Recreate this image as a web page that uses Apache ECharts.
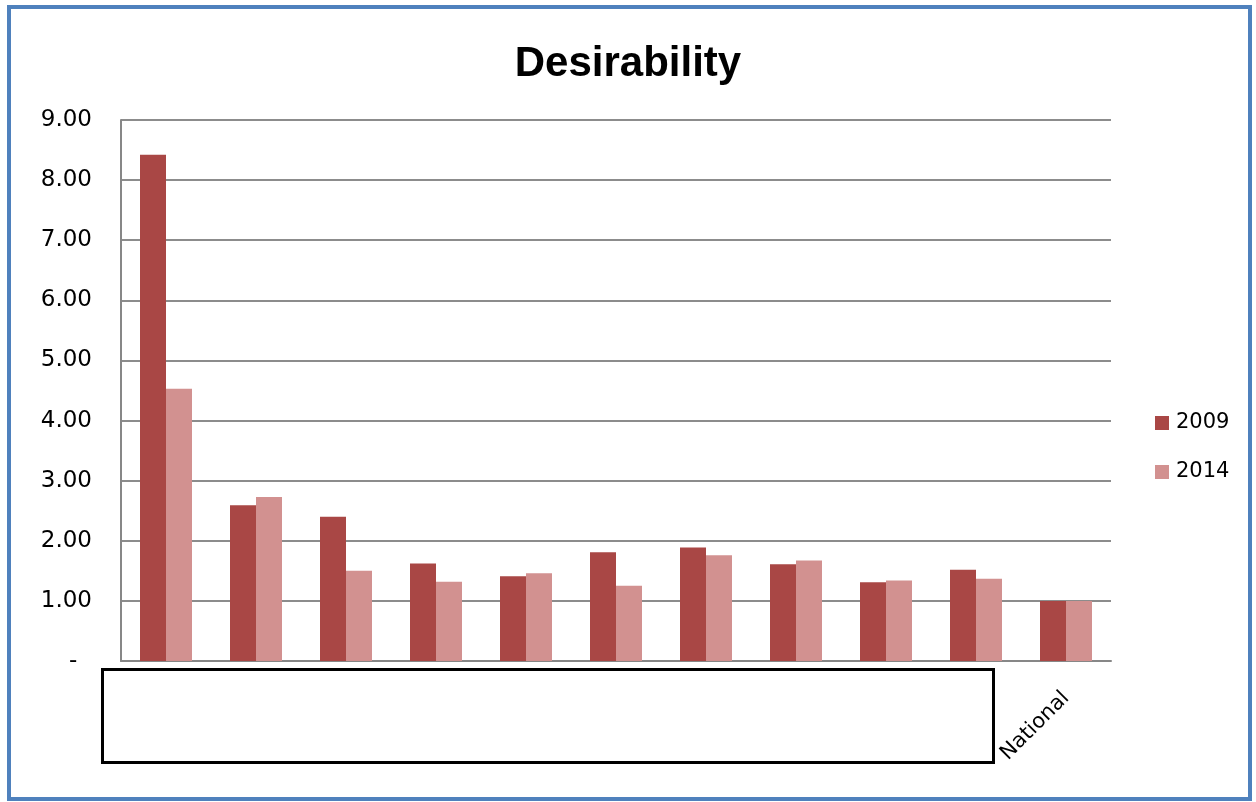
<!DOCTYPE html>
<html>
<head>
<meta charset="utf-8">
<title>Desirability</title>
<script src="https://cdn.jsdelivr.net/npm/echarts@6/dist/echarts.min.js"></script>
<style>
  html, body { margin: 0; padding: 0; background: #ffffff; }
  #chart { width: 1256px; height: 802px; }
</style>
</head>
<body>
<div id="chart"></div>
<script>
// Categories: ten groups whose labels sit under a blank panel, then the national figure
const categories = ['1', '2', '3', '4', '5', '6', '7', '8', '9', '10', 'National'];
const shownLabels = ['National'];

// Desirability index per category
const values2009 = [8.42, 2.59, 2.40, 1.62, 1.41, 1.81, 1.89, 1.61, 1.31, 1.52, 1.00];
const values2014 = [4.53, 2.73, 1.50, 1.32, 1.46, 1.25, 1.76, 1.67, 1.34, 1.37, 1.00];

const seriesNames = ['2009', '2014'];
const yTicks = { min: 0, max: 9, interval: 1 };

const chart = echarts.init(document.getElementById('chart'), null, { renderer: 'canvas' });

const labelFont = 'DejaVu Sans';

chart.setOption({
  backgroundColor: '#ffffff',
  animation: false,
  title: {
    text: 'Desirability',
    left: 'center',
    top: 38,
    textStyle: {
      fontFamily: 'Liberation Sans',
      fontWeight: 'bold',
      fontSize: 42,
      color: '#000000'
    }
  },
  legend: {
    orient: 'vertical',
    left: 1150,
    top: 407,
    itemWidth: 14,
    itemHeight: 14,
    itemGap: 27,
    icon: 'rect',
    textStyle: {
      fontFamily: labelFont,
      fontSize: 21,
      lineHeight: 22,
      color: '#000000',
      padding: [0, 0, 0, 2]
    },
    data: seriesNames
  },
  grid: {
    left: 121,
    right: 145,
    top: 120,
    bottom: 141,
    containLabel: false
  },
  xAxis: {
    type: 'category',
    data: categories,
    boundaryGap: true,
    axisLine: { lineStyle: { color: '#878787', width: 2 } },
    axisTick: { show: false },
    axisLabel: {
      interval: 0,
      rotate: 45,
      margin: 34,
      fontFamily: labelFont,
      fontSize: 21,
      color: '#000000',
      formatter: function (v) { return shownLabels.indexOf(v) >= 0 ? v : ''; }
    }
  },
  yAxis: {
    type: 'value',
    min: yTicks.min,
    max: yTicks.max,
    interval: yTicks.interval,
    axisLine: { show: true, lineStyle: { color: '#878787', width: 2 } },
    axisTick: { show: false },
    splitLine: { lineStyle: { color: '#8c8c8c', width: 2 } },
    axisLabel: {
      margin: 29,
      fontFamily: labelFont,
      fontSize: 23,
      color: '#000000',
      formatter: function (v) { return v === 0 ? '-\u00a0\u00a0' : v.toFixed(2); }
    }
  },
  series: [
    {
      name: seriesNames[0],
      type: 'bar',
      data: values2009,
      barWidth: 26,
      barGap: '0%',
      itemStyle: { color: '#a94745' }
    },
    {
      name: seriesNames[1],
      type: 'bar',
      data: values2014,
      barWidth: 26,
      barGap: '0%',
      itemStyle: { color: '#d29190' }
    }
  ],
  graphic: [
    // outer frame of the chart area
    {
      type: 'rect',
      silent: true,
      z: 100,
      shape: { x: 9, y: 7, width: 1241, height: 792 },
      style: { fill: 'none', stroke: '#4f81bd', lineWidth: 4 }
    },
    // blank panel over the group labels
    {
      type: 'rect',
      silent: true,
      z: 100,
      shape: { x: 102.5, y: 669.5, width: 891, height: 93 },
      style: { fill: '#ffffff', stroke: '#000000', lineWidth: 3 }
    }
  ]
});
</script>
</body>
</html>
